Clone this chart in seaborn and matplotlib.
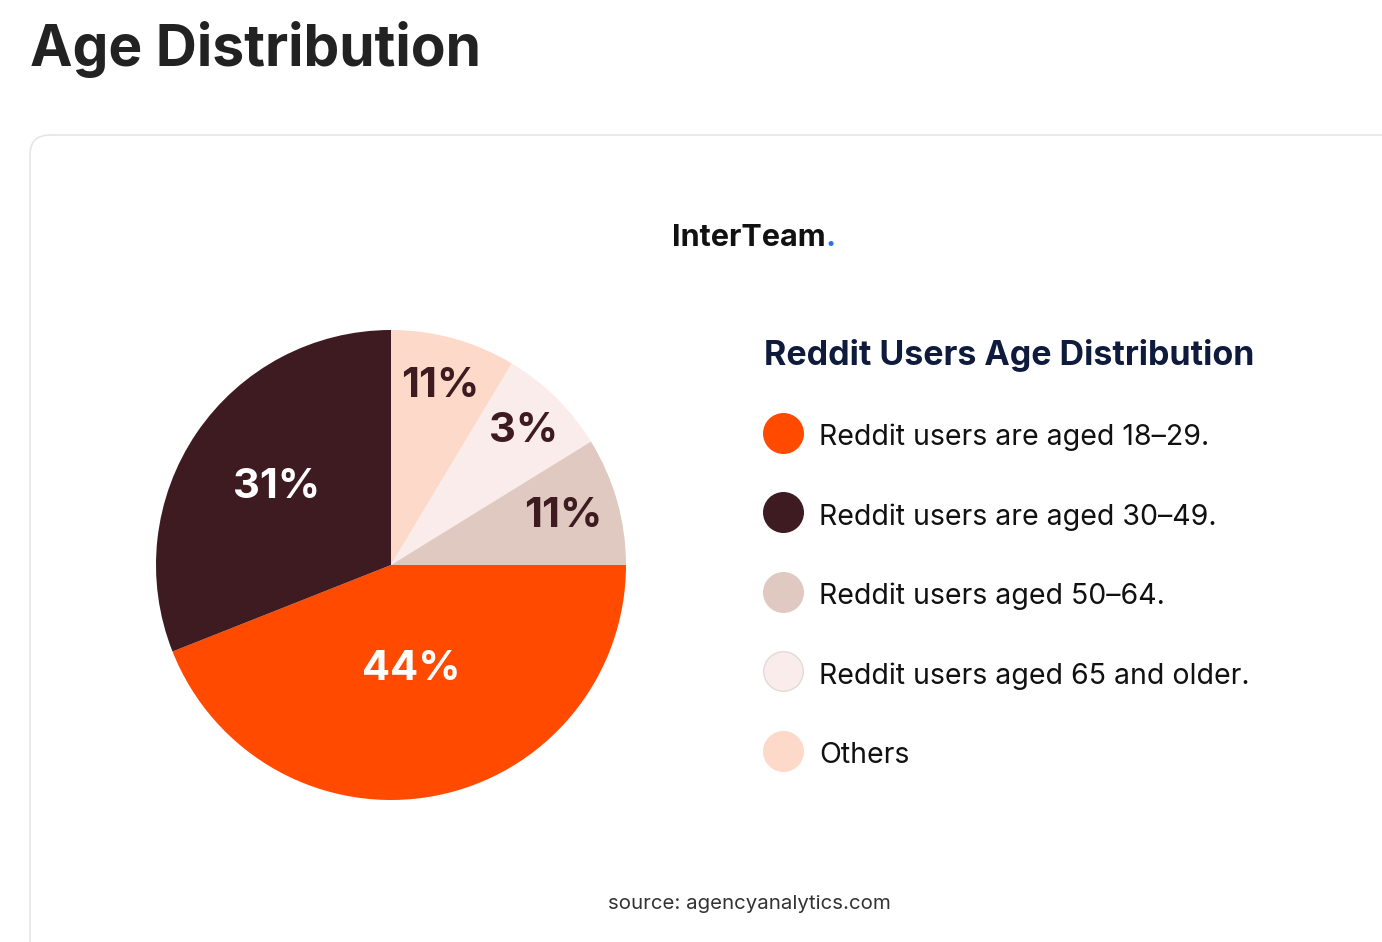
import numpy as np
import seaborn as sns
import matplotlib.pyplot as plt
from matplotlib.lines import Line2D
from matplotlib.patches import FancyBboxPatch

# slices in drawing order (clockwise from 3 o'clock)
groups = ["Reddit users are aged 18\u201329.", "Reddit users are aged 30\u201349.",
          "Others", "Reddit users aged 65 and older.", "Reddit users aged 50\u201364."]
pct_labels = [44, 31, 11, 3, 11]          # printed on the slices
drawn_share = [44, 31, 8.6, 7.6, 8.8]     # slice sizes as drawn in the picture
colors = ["#FF4A00", "#3D1B20", "#FDD9CA", "#F9ECEA", "#DFC9C1"]
label_colors = ["white", "white", "#3D1B20", "#3D1B20", "#3D1B20"]
label_radius = [0.45, 0.59, 0.79, 0.80, 0.76]

# legend order differs from slice order
legend_order = [0, 1, 4, 3, 2]

sns.set_theme(style="white")
plt.rcParams["font.family"] = ["Inter", "DejaVu Sans"]

W, H = 1382, 942
fig = plt.figure(figsize=(W / 100, H / 100), dpi=100)
fig.patch.set_facecolor("white")

# card outline, kept behind the pie
card = FancyBboxPatch((0.30, -0.5), 20, (H - 135) / 100 + 0.5,
                      boxstyle="round,pad=0,rounding_size=0.2",
                      transform=fig.dpi_scale_trans, facecolor="white",
                      edgecolor="#E6E6E6", lw=1.2, zorder=-5)
fig.add_artist(card)

fig.text(30 / W, 1 - 66 / H, "Age Distribution", fontsize=41, weight="bold",
         color="#222222", va="baseline", ha="left")

# logo
fig.text(826 / W, 1 - 246 / H, "InterTeam", fontsize=22, weight="bold",
         color="#111111", va="baseline", ha="right")
fig.text(826 / W, 1 - 246 / H, ".", fontsize=22, weight="bold",
         color="#2F6FE8", va="baseline", ha="left")

# pie
ax = fig.add_axes([156 / W, (H - 800) / H, 470 / W, 470 / H], zorder=2)
ax.patch.set_alpha(0)
wedges, _ = ax.pie(drawn_share, colors=colors, startangle=0, counterclock=False,
                   radius=1, wedgeprops=dict(linewidth=0))
ax.set_xlim(-1, 1)
ax.set_ylim(-1, 1)
ax.set_aspect("equal")
ax.axis("off")

for w, p, c, r in zip(wedges, pct_labels, label_colors, label_radius):
    mid = np.deg2rad((w.theta1 + w.theta2) / 2)
    ax.text(r * np.cos(mid), r * np.sin(mid), f"{p}%", ha="center", va="center",
            fontsize=30, weight="bold", color=c)

# legend
handles = []
for i in legend_order:
    edge = "#E2DADA" if i == 3 else colors[i]
    handles.append(Line2D([], [], marker="o", linestyle="", markersize=28.5,
                          markerfacecolor=colors[i], markeredgecolor=edge,
                          markeredgewidth=1))
leg = ax.legend(handles, [groups[i] for i in legend_order],
                title="Reddit Users Age Distribution", loc="upper left",
                bbox_to_anchor=(750 / W, 1 - 325 / H), bbox_transform=fig.transFigure,
                frameon=False, fontsize=20.5, labelspacing=1.67, handlelength=1.35,
                handleheight=1.35, handletextpad=0.58, borderpad=0,
                alignment="left")
leg.get_title().set_fontsize(24.5)
leg.get_title().set_fontweight("bold")
leg.get_title().set_color("#0F1B3D")
for t in leg.get_texts():
    t.set_color("#111111")

fig.text(749 / W, 1 - 904 / H, "source: agencyanalytics.com", fontsize=14.7,
         color="#333333", ha="center", va="center")

fig.savefig("out.png", dpi=100)
